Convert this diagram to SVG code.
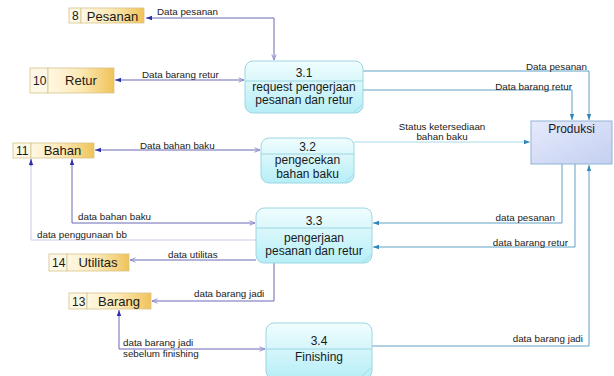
<svg xmlns="http://www.w3.org/2000/svg" width="614" height="376" viewBox="0 0 614 376">
<style>
text{font-family:"Liberation Sans",Arial,sans-serif;fill:#1a1a1a}
.pn{font-size:12px;text-anchor:middle}
.sn{font-size:13px;text-anchor:middle}
.sd{font-size:12px}
.lb{font-size:9.8px}
.le{font-size:9.8px;text-anchor:end}
.lm{font-size:9.8px;text-anchor:middle}
.proc{fill:url(#gp);stroke:#9cd6e2;stroke-width:1}
.div{stroke:#9cd6e2;stroke-width:1;fill:none}
.shd{stroke:#9cd6e2;stroke-width:0.8;fill:none}
.cell{fill:#fdf7e6;stroke:#d6c28a;stroke-width:0.8}
.main{fill:url(#gs);stroke:#d6c28a;stroke-width:0.8}
.cp{fill:none;stroke:#6b6bb8;stroke-width:1}
.cl{fill:none;stroke:#c9c9e6;stroke-width:1}
.ct{fill:none;stroke:#5fa2c6;stroke-width:1}
.ctl{fill:none;stroke:#a9d8e8;stroke-width:1}
</style>
<defs>
<linearGradient id="gp" x1="0" y1="0" x2="0" y2="1">
<stop offset="0" stop-color="#f0fdfe"/>
<stop offset="1" stop-color="#b6eef7"/>
</linearGradient>
<linearGradient id="gs" x1="0" y1="0" x2="1" y2="0">
<stop offset="0" stop-color="#fff8e4"/>
<stop offset="0.5" stop-color="#fbe8b4"/>
<stop offset="1" stop-color="#f0c35a"/>
</linearGradient>
<linearGradient id="gx" x1="0" y1="0" x2="1" y2="1">
<stop offset="0" stop-color="#e6eafb"/>
<stop offset="1" stop-color="#c4d0f1"/>
</linearGradient>
<marker id="fa" viewBox="0 0 6 6" refX="6" refY="3" markerWidth="6" markerHeight="6" markerUnits="userSpaceOnUse" orient="auto">
<path d="M0,0.8 L6,3 L0,5.2 Z" fill="#2f2fa8"/>
</marker>
<marker id="oa" viewBox="0 0 6 6" refX="6" refY="3" markerWidth="6" markerHeight="6" markerUnits="userSpaceOnUse" orient="auto-start-reverse">
<path d="M0.5,0.8 L6,3 L0.5,5.2" fill="none" stroke="#8a8ad0" stroke-width="0.9"/>
</marker>
<marker id="ta" viewBox="0 0 6 6" refX="6" refY="3" markerWidth="6" markerHeight="6" markerUnits="userSpaceOnUse" orient="auto">
<path d="M0,0.8 L6,3 L0,5.2 Z" fill="#2f86b8"/>
</marker>
</defs>
<rect width="614" height="376" fill="#ffffff"/>

<g id="connectors">
<path class="cp" d="M274,60 V18 H146" marker-start="url(#oa)" marker-end="url(#fa)"/>
<path class="cp" d="M244,80 H115" marker-start="url(#oa)" marker-end="url(#fa)"/>
<path class="cp" d="M260,150 H95" marker-start="url(#oa)" marker-end="url(#fa)"/>
<path class="ct" d="M363,71 H589 V120" marker-end="url(#ta)"/>
<path class="ct" d="M363,90 H572 V120" marker-end="url(#ta)"/>
<path class="ctl" d="M354,142 H530" marker-end="url(#ta)"/>
<path class="ct" d="M562,164 V223 H373" marker-end="url(#ta)"/>
<path class="ct" d="M575,164 V247 H373" marker-end="url(#ta)"/>
<path class="ct" d="M372,346 H589 V165" marker-end="url(#ta)"/>
<path class="cp" d="M255,223 H72 V159" marker-start="url(#oa)" marker-end="url(#fa)"/>
<path class="cl" d="M256,240 H31 V159"/>
<path d="M31,166 V159" stroke="#6b6bb8" fill="none" marker-end="url(#fa)"/>
<path class="cp" d="M256,260 H130" marker-end="url(#oa)"/>
<path class="cp" d="M274,263 V301 H152" marker-end="url(#oa)"/>
<path class="cp" d="M265,349 H119 V310" marker-start="url(#oa)" marker-end="url(#fa)"/>
<text class="lb" x="157" y="14.5">Data pesanan</text>
<text class="lb" x="142" y="78">Data barang retur</text>
<text class="lb" x="140" y="148.5">Data bahan baku</text>
<text class="le" x="587" y="69.5">Data pesanan</text>
<text class="le" x="572" y="90">Data barang retur</text>
<text class="lm" x="442" y="129.5">Status ketersediaan</text>
<text class="lm" x="442" y="139.5">bahan baku</text>
<text class="lb" x="78" y="219.5">data bahan baku</text>
<text class="lb" x="37" y="237.5">data penggunaan bb</text>
<text class="lb" x="168" y="257.5">data utilitas</text>
<text class="lb" x="194" y="296.5">data barang jadi</text>
<text class="lb" x="123" y="345.5">data barang jadi</text>
<text class="lb" x="123" y="356.5">sebelum finishing</text>
<text class="le" x="555" y="220.5">data pesanan</text>
<text class="le" x="568" y="245.5">data barang retur</text>
<text class="le" x="583" y="341.5">data barang jadi</text>
</g>

<g id="store-pesanan">
<rect class="cell" x="69" y="8" width="12" height="15"/>
<rect class="main" x="81" y="8" width="63" height="15"/>
<text class="sd" x="72" y="20">8</text>
<text class="sn" x="112.5" y="20.5">Pesanan</text>
</g>
<g id="store-retur">
<rect class="cell" x="30" y="68" width="18" height="25"/>
<rect class="main" x="48" y="68" width="66" height="25"/>
<text class="sd" x="33" y="85">10</text>
<text class="sn" x="81" y="85">Retur</text>
</g>
<g id="store-bahan">
<rect class="cell" x="13" y="143" width="18" height="15"/>
<rect class="main" x="31" y="143" width="63" height="15"/>
<text class="sd" x="16" y="155">11</text>
<text class="sn" x="62.5" y="155">Bahan</text>
</g>
<g id="store-utilitas">
<rect class="cell" x="49" y="254" width="18" height="17"/>
<rect class="main" x="67" y="254" width="62" height="17"/>
<text class="sd" x="52" y="267">14</text>
<text class="sn" x="98" y="267">Utilitas</text>
</g>
<g id="store-barang">
<rect class="cell" x="69" y="293" width="18" height="16"/>
<rect class="main" x="87" y="293" width="64" height="16"/>
<text class="sd" x="72" y="305.5">13</text>
<text class="sn" x="119" y="305.5">Barang</text>
</g>

<g id="proc-3-1">
<rect class="proc" x="245" y="61" width="118" height="52" rx="8"/>
<path class="div" d="M245,81 H363"/>
<path class="shd" d="M354,112 L362,105"/>
<text class="pn" x="304" y="77">3.1</text>
<text class="pn" x="304" y="91">request pengerjaan</text>
<text class="pn" x="304" y="103.5">pesanan dan retur</text>
</g>
<g id="proc-3-2">
<rect class="proc" x="261" y="138" width="93" height="45" rx="8"/>
<path class="div" d="M261,154 H354"/>
<path class="shd" d="M345,182 L353,175"/>
<text class="pn" x="307.5" y="151">3.2</text>
<text class="pn" x="307.5" y="164">pengecekan</text>
<text class="pn" x="307.5" y="178">bahan baku</text>
</g>
<g id="proc-3-3">
<rect class="proc" x="256" y="208" width="116" height="55" rx="8"/>
<path class="div" d="M256,228 H372"/>
<path class="shd" d="M363,262 L371,255"/>
<text class="pn" x="314" y="225">3.3</text>
<text class="pn" x="314" y="241.5">pengerjaan</text>
<text class="pn" x="314" y="254.5">pesanan dan retur</text>
</g>
<g id="proc-3-4">
<rect class="proc" x="266" y="323" width="106" height="56" rx="8"/>
<path class="div" d="M266,349 H372"/>
<path class="shd" d="M362,376 L371,368"/>
<text class="pn" x="319" y="345">3.4</text>
<text class="pn" x="319" y="361">Finishing</text>
</g>
<g id="ext-produksi">
<rect x="531" y="121" width="81" height="43" fill="url(#gx)" stroke="#8fb4d6" stroke-width="1"/>
<text class="pn" x="571.5" y="132.5">Produksi</text>
</g>
</svg>
